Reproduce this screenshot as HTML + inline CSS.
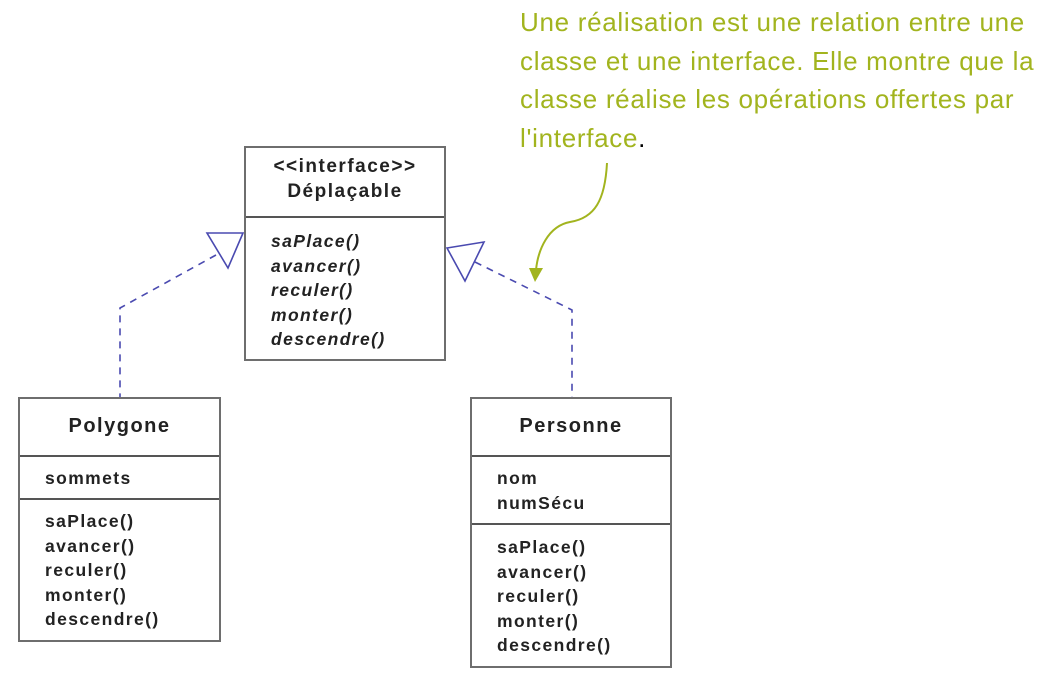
<!DOCTYPE html>
<html><head><meta charset="utf-8"><style>
html,body{margin:0;padding:0;background:#fff;}
body{width:1059px;height:680px;position:relative;overflow:hidden;font-family:"Liberation Sans",sans-serif;}
.note{position:absolute;left:520px;top:3px;width:540px;color:#a2b41e;font-size:26px;line-height:38.5px;letter-spacing:0.7px;white-space:nowrap;}
.box{position:absolute;border:2px solid #6e6e6e;background:#fff;box-sizing:border-box;}
.sec{border-bottom:2px solid #555;box-sizing:border-box;}
.t{font-size:20px;font-weight:bold;color:#222;text-align:center;letter-spacing:1.5px;}
.it{font-size:17.5px;font-weight:bold;color:#222;line-height:24.5px;letter-spacing:1.4px;}
</style></head><body>
<div class="note">Une réalisation est une relation entre une<br>classe et une interface. Elle montre que la<br>classe réalise les opérations offertes par<br>l'interface<span style="color:#000">.</span></div>

<svg width="1059" height="680" style="position:absolute;left:0;top:0">
<g stroke="#4a4ab0" stroke-width="1.6" fill="none">
<polyline points="216,255 120,308 120,397" stroke-dasharray="7,6"/>
<polygon points="207,233 243,233 228,268" fill="#fff"/>
<polyline points="475,262 572,310 572,397" stroke-dasharray="7,6"/>
<polygon points="447,248 484,242 465,281" fill="#fff"/>
</g>
<path d="M607,163 C605,200 595,218 570,222 C548,226 538,250 536,270" stroke="#a2b41e" stroke-width="2" fill="none"/>
<polygon points="529,268 543,268 535,282" fill="#a2b41e"/>
</svg>

<div class="box" style="left:244px;top:146px;width:202px;height:215px;">
 <div class="sec" style="height:70px;padding-top:6px;"><div class="t" style="font-size:19px;line-height:25px;">&lt;&lt;interface&gt;&gt;<br>Déplaçable</div></div>
 <div class="it" style="padding:11px 0 0 25px;font-style:italic;">saPlace()<br>avancer()<br>reculer()<br>monter()<br>descendre()</div>
</div>

<div class="box" style="left:18px;top:397px;width:203px;height:245px;">
 <div class="sec" style="height:58px;padding-top:16px;"><div class="t">Polygone</div></div>
 <div class="sec" style="height:43px;padding:9px 0 0 25px;"><div class="it">sommets</div></div>
 <div class="it" style="padding:9px 0 0 25px;">saPlace()<br>avancer()<br>reculer()<br>monter()<br>descendre()</div>
</div>

<div class="box" style="left:470px;top:397px;width:202px;height:271px;">
 <div class="sec" style="height:58px;padding-top:16px;"><div class="t">Personne</div></div>
 <div class="sec" style="height:68px;padding:9px 0 0 25px;"><div class="it">nom<br>numSécu</div></div>
 <div class="it" style="padding:10px 0 0 25px;">saPlace()<br>avancer()<br>reculer()<br>monter()<br>descendre()</div>
</div>
</body></html>
